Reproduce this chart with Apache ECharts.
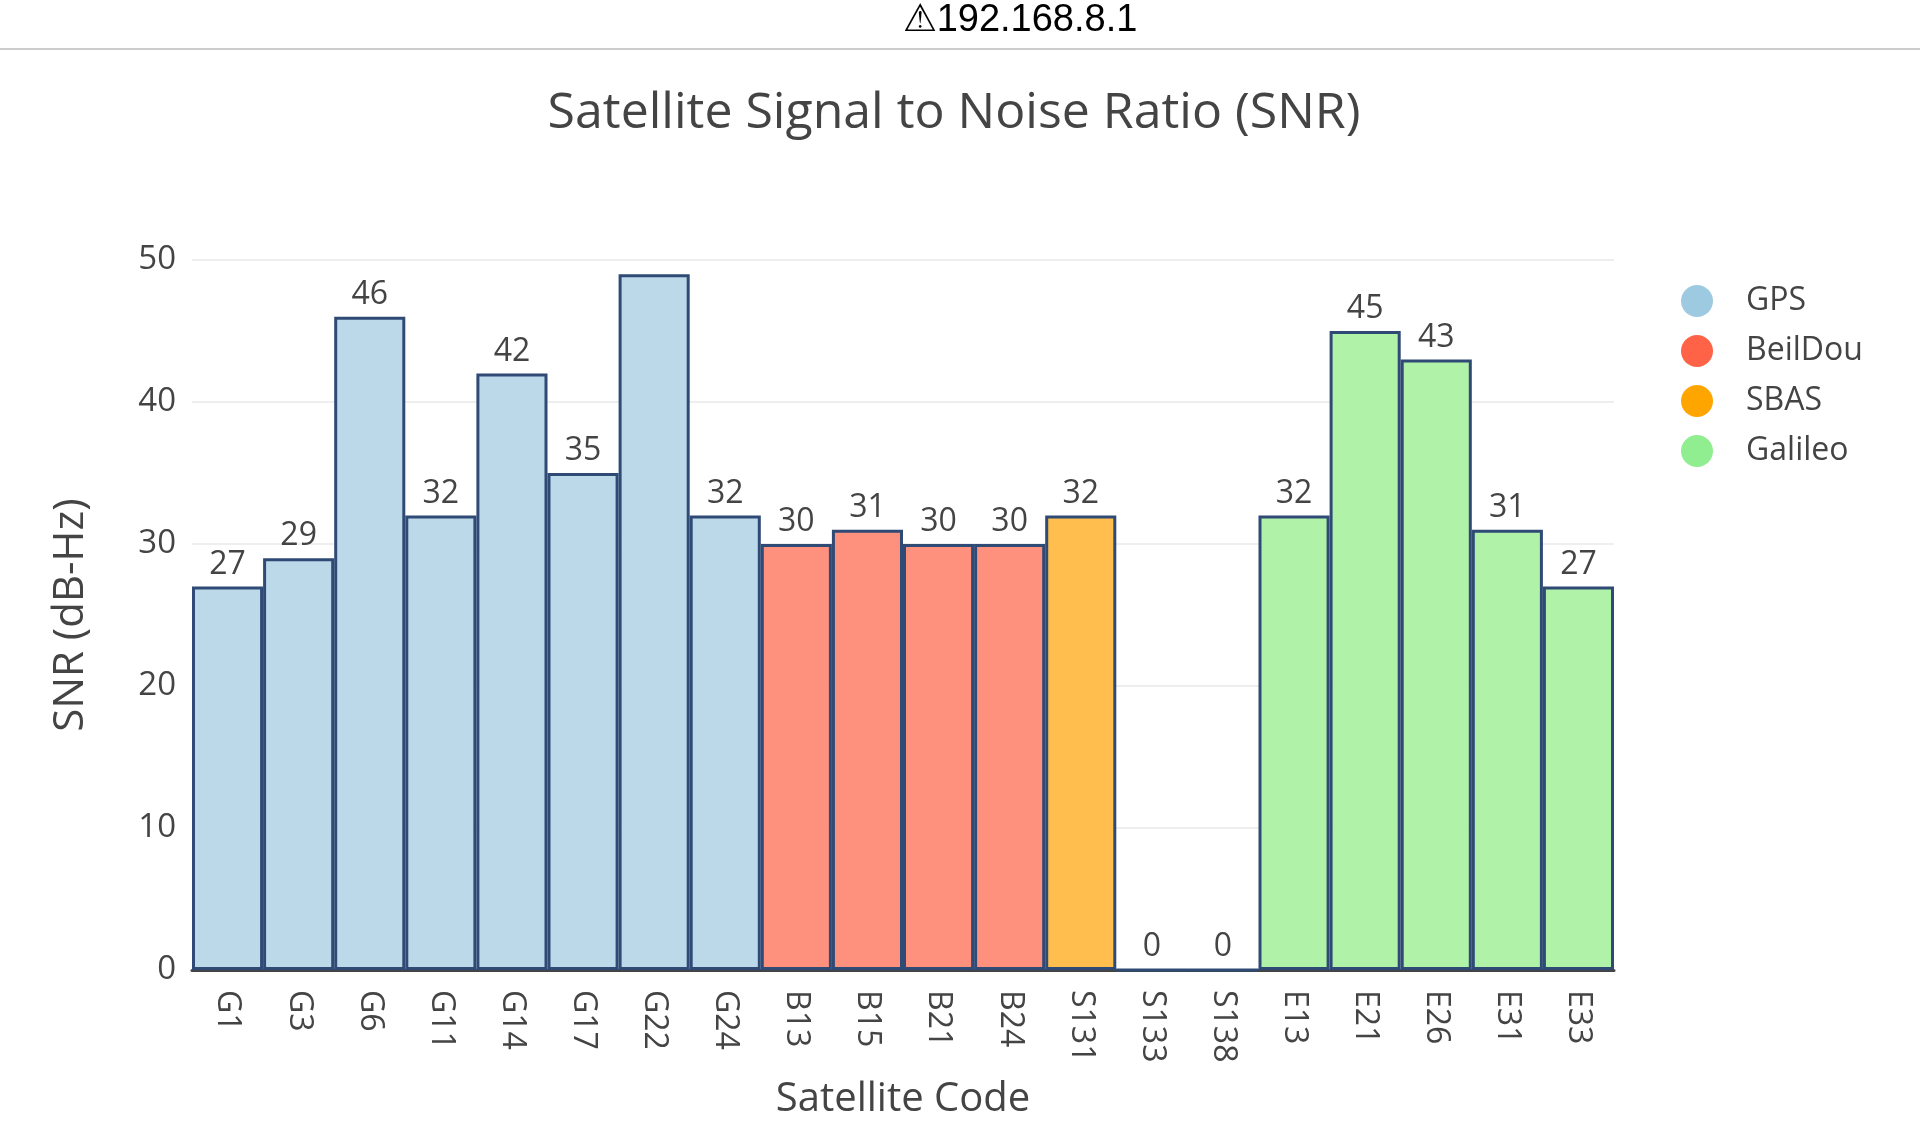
<!DOCTYPE html>
<html><head><meta charset="utf-8">
<script src="https://cdn.jsdelivr.net/npm/echarts@6/dist/echarts.min.js"></script>
<style>html,body{margin:0;padding:0;background:#fff}#top{position:absolute;left:60px;top:0;width:1920px;height:48px;text-align:center;font:38px "Liberation Sans Narrow","Liberation Sans",sans-serif;line-height:36px;color:#000}#line{position:absolute;left:0;top:48px;width:1920px;height:2px;background:#ccc}#c{position:absolute;left:0;top:0;width:1920px;height:1125px}</style>
</head><body>
<div id="c"></div><div id="top">&#9888;192.168.8.1</div><div id="line"></div>
<script>
const categories = ['G1','G3','G6','G11','G14','G17','G22','G24','B13','B15','B21','B24','S131','S133','S138','E13','E21','E26','E31','E33'];
const gpsValues = [27,29,46,32,42,35,49,32];
const beidouValues = [30,31,30,30];
const sbasValues = [32,0,0];
const galileoValues = [32,45,43,31,27];
const hiddenLabels = ['G22'];
const yTicks = [0,10,20,30,40,50];

function place(vals, offset){
  const arr = categories.map(()=>'-');
  vals.forEach((v,i)=>{arr[offset+i]=v;});
  return arr;
}
const groups = [
  {name:'GPS', vals:gpsValues, off:0, fill:'#bcd9ea', mark:'#9ecae1'},
  {name:'BeilDou', vals:beidouValues, off:8, fill:'#fd917e', mark:'#ff6347'},
  {name:'SBAS', vals:sbasValues, off:12, fill:'#ffbe4d', mark:'#ffa500'},
  {name:'Galileo', vals:galileoValues, off:15, fill:'#b0f2a8', mark:'#90ee90'}
];
const font = '"Open Sans", sans-serif';
const chart = echarts.init(document.getElementById('c'));
chart.setOption({
  animation:false,
  title:{text:'Satellite Signal to Noise Ratio (SNR)', left:949, top:84, textAlign:'center',
    textStyle:{fontFamily:font, fontSize:50, fontWeight:'normal', color:'#444'}},
  legend:{orient:'vertical', left:1676, top:280, itemGap:18, itemWidth:32, itemHeight:32, icon:'circle',
    textStyle:{fontFamily:font, fontSize:32, color:'#444', padding:[0,0,0,28]},
    data:groups.map(g=>({name:g.name, itemStyle:{color:g.mark, borderWidth:0}}))},
  grid:{left:192, right:306, top:260, bottom:154},
  xAxis:{type:'category', data:categories, name:'Satellite Code', nameLocation:'middle', nameGap:110,
    nameTextStyle:{fontFamily:font, fontSize:40, color:'#444'},
    axisLine:{lineStyle:{color:'#444', width:3}}, axisTick:{show:false},
    axisLabel:{rotate:-90, fontFamily:font, fontSize:32, color:'#444', margin:20}},
  yAxis:{type:'value', min:0, max:50, interval:10, name:'SNR (dB-Hz)', nameLocation:'middle', nameGap:100,
    nameTextStyle:{fontFamily:font, fontSize:42, color:'#444'},
    axisLabel:{fontFamily:font, fontSize:33, color:'#444', margin:16, formatter:v=>yTicks.includes(v)?String(v):''},
    splitLine:{lineStyle:{color:'#eee', width:2}}},
  series:groups.map(g=>({
    name:g.name, type:'bar', stack:'all', barCategoryGap:'0%',
    data:place(g.vals,g.off).map((v,i)=>hiddenLabels.includes(categories[i])?{value:v,label:{show:false}}:v),
    itemStyle:{color:g.fill, borderColor:'#2f4a75', borderWidth:3},
    label:{show:true, position:'top', distance:6, fontFamily:font, fontSize:32, color:'#444'}
  }))
});
</script></body></html>
